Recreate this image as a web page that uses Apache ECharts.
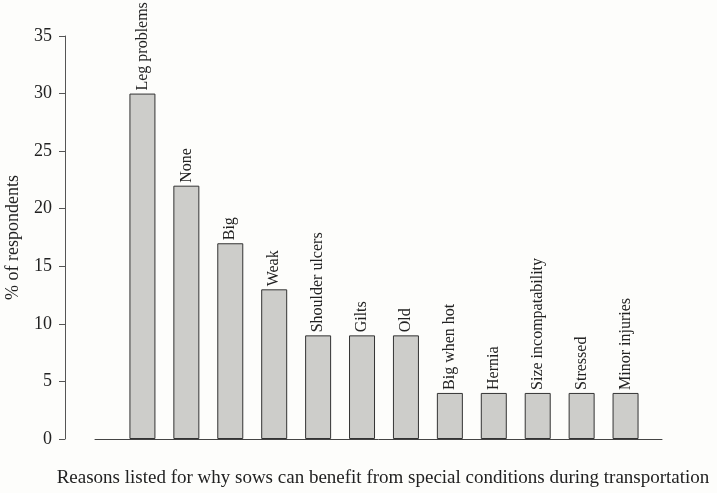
<!DOCTYPE html>
<html>
<head>
<meta charset="utf-8">
<script src="https://cdn.jsdelivr.net/npm/echarts@6/dist/echarts.min.js"></script>
<style>
html,body{margin:0;padding:0;background:#fdfdfb;}
#c{width:717px;height:493px;}
</style>
</head>
<body>
<div id="c"></div>
<script>
var categories = ["Leg problems","None","Big","Weak","Shoulder ulcers","Gilts","Old","Big when hot","Hernia","Size incompatability","Stressed","Minor injuries"];
var values = [30, 22, 17, 13, 9, 9, 9, 4, 4, 4, 4, 4];
var yTicks = [0, 5, 10, 15, 20, 25, 30, 35];

var font = "Liberation Serif";
var chart = echarts.init(document.getElementById('c'));
var data = categories.map(function(c, i){ return {name: c, value: [i + 1, values[i]]}; });
chart.setOption({
  backgroundColor: '#fdfdfb',
  animation: false,
  grid: {left: 95, right: 55, top: 36, bottom: 54, containLabel: false, outerBoundsMode: 'none'},
  xAxis: {
    type: 'value',
    min: -0.08, max: 12.83,
    axisLine: {show: true, onZero: false, lineStyle: {color: '#444', width: 1}},
    axisTick: {show: false},
    axisLabel: {show: false},
    splitLine: {show: false},
    name: 'Reasons listed for why sows can benefit from special conditions during transportation',
    nameLocation: 'middle',
    nameGap: 30,
    nameTextStyle: {fontFamily: font, fontSize: 19, color: '#222', padding: [0, 0, 0, 9]}
  },
  yAxis: {
    type: 'value',
    min: yTicks[0], max: yTicks[yTicks.length - 1], interval: 5,
    offset: 30,
    axisLine: {show: true, onZero: false, lineStyle: {color: '#555', width: 1}},
    axisTick: {show: true, length: 6, lineStyle: {color: '#555'}},
    axisLabel: {fontFamily: font, fontSize: 18, color: '#222', margin: 13},
    splitLine: {show: false},
    name: '% of respondents',
    nameLocation: 'middle',
    nameGap: 43,
    nameTextStyle: {fontFamily: font, fontSize: 18, color: '#222'}
  },
  series: [{
    type: 'bar',
    data: data,
    barWidth: 26,
    itemStyle: {color: '#cdcdca', borderColor: '#333', borderWidth: 1},
    label: {
      show: true,
      position: 'top',
      rotate: 90,
      align: 'left',
      verticalAlign: 'middle',
      distance: 3,
      formatter: function(p){ return p.name; },
      fontFamily: font,
      fontSize: 16,
      color: '#222'
    }
  }]
});
</script>
</body>
</html>
